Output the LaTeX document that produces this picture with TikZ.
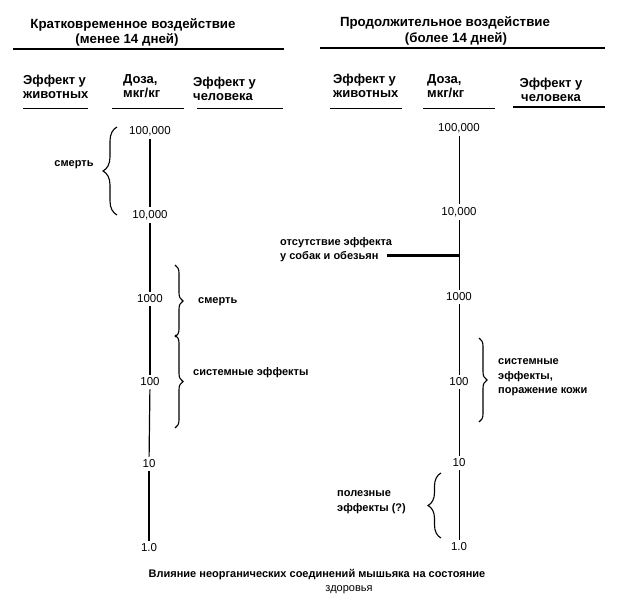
\documentclass[tikz,border=0pt]{standalone}
\usepackage{fontspec}
\setmainfont{Liberation Sans}
\usetikzlibrary{decorations.pathreplacing}
\begin{document}
\begin{tikzpicture}[x=1pt,y=-1pt,
  every node/.style={inner sep=1pt},
  titletext/.style={font=\bfseries\fontsize{13.3}{15}\selectfont},
  head/.style={font=\bfseries\fontsize{13}{14}\selectfont, align=left, anchor=west},
  dose/.style={font=\fontsize{11.5}{13}\selectfont, inner sep=3pt},
  lab/.style={font=\bfseries\fontsize{11}{14.5}\selectfont, align=left, anchor=west},
  captext/.style={font=\bfseries\fontsize{11}{14}\selectfont},
  axis/.style={line width=1.2pt},
  raxis/.style={line width=0.9pt},
  rule/.style={line width=1.4pt},
  uline/.style={line width=1pt},
  brc/.style={decorate, decoration={brace, amplitude=#1}, line width=1.1pt},
]
\useasboundingbox (0,0) rectangle (620,610);

% titles
\node[titletext] (t1a) at (133,25) {Кратковременное воздействие};
\node[titletext] (t1b) at (127,40) {(менее 14 дней)};
\node[titletext] (t2a) at (445,23) {Продолжительное воздействие};
\node[titletext] (t2b) at (456,39) {(более 14 дней)};
\coordinate (r1a) at (13,49);  \coordinate (r1b) at (284,49);
\coordinate (r2a) at (320,48); \coordinate (r2b) at (605,48);
\draw[rule] (r1a) -- (r1b);
\draw[rule] (r2a) -- (r2b);

% column headers
\node[head] (h1) at (22,86.5) {Эффект у\\животных};
\node[head] (h2) at (122,86) {Доза,\\мкг/кг};
\node[head] (h3) at (192,89) {Эффект у\\человека};
\node[head] (h4) at (332,86) {Эффект у\\животных};
\node[head] (h5) at (426,86) {Доза,\\мкг/кг};
\node[head, align=center, anchor=center] (h6) at (551,90) {Эффект у\\человека};

\coordinate (u1a) at (23,108);  \coordinate (u1b) at (88,108);
\coordinate (u2a) at (112,108); \coordinate (u2b) at (184,108);
\coordinate (u3a) at (197,108); \coordinate (u3b) at (283,108);
\coordinate (u4a) at (330,108); \coordinate (u4b) at (402,108);
\coordinate (u5a) at (423,108); \coordinate (u5b) at (495,108);
\coordinate (u6a) at (513,107); \coordinate (u6b) at (605,107);
\draw[uline] (u1a) -- (u1b);
\draw[uline] (u2a) -- (u2b);
\draw[uline] (u3a) -- (u3b);
\draw[uline] (u4a) -- (u4b);
\draw[uline] (u5a) -- (u5b);
\draw[line width=1.8pt] (u6a) -- (u6b);

% left dose axis
\node[dose] (la) at (150,131) {100,000};
\node[dose] (lb) at (150,215) {10,000};
\node[dose] (lc) at (150,299) {1000};
\node[dose] (ld) at (150,382) {100};
\node[dose] (le) at (149,464) {10};
\node[dose] (lf) at (149,548) {1.0};
\draw[axis] (la) -- (lb);
\draw[axis] (lb) -- (lc);
\draw[axis] (lc) -- (ld);
\draw[axis] (ld) -- (le);
\draw[axis] (le) -- (lf);

% right dose axis
\node[dose] (ra) at (459,128) {100,000};
\node[dose] (rb) at (459,212) {10,000};
\node[dose] (rc) at (459,297) {1000};
\node[dose] (rd) at (459,382) {100};
\node[dose] (re) at (459,463) {10};
\node[dose] (rf) at (459,547) {1.0};
\draw[raxis] (ra) -- (rb);
\draw[raxis] (rb) -- (rc);
\draw[raxis] (rc) -- (rd);
\draw[raxis] (rd) -- (re);
\draw[raxis] (re) -- (rf);

% left labels and braces
\node[lab, anchor=center] (s1) at (74,165) {смерть};
\coordinate (b1t) at (117,127); \coordinate (b1b) at (117,215);
\draw[brc=14pt] (b1b) -- (b1t);

\node[lab] (s2) at (197,302) {смерть};
\coordinate (b2t) at (175,265); \coordinate (b2b) at (175,337);
\draw[brc=8pt] (b2t) -- (b2b);

\node[lab] (s3) at (192,373) {системные эффекты};
\coordinate (b3t) at (175,335); \coordinate (b3b) at (175,428);
\draw[brc=8pt] (b3t) -- (b3b);

% right labels and braces
\node[lab] (ne) at (279,249.5) {отсутствие эффекта\\у собак и обезьян};
\coordinate (nea) at (387,255); \coordinate (neb) at (459,255);
\draw[line width=3pt] (nea) -- (neb);

\node[lab] (s4) at (497,377.5) {системные\\эффекты,\\поражение кожи};
\coordinate (b4t) at (479,338); \coordinate (b4b) at (479,422);
\draw[brc=8pt] (b4t) -- (b4b);

\node[lab] (s5) at (336,502) {полезные\\эффекты (?)};
\coordinate (b5t) at (441,473); \coordinate (b5b) at (441,538);
\draw[brc=13pt] (b5b) -- (b5t);

% caption
\node[captext] (c1) at (317,575) {Влияние неорганических соединений мышьяка на состояние};
\node[captext, font=\fontsize{11}{14}\selectfont] (c2) at (349,590) {здоровья};
\end{tikzpicture}
\end{document}
